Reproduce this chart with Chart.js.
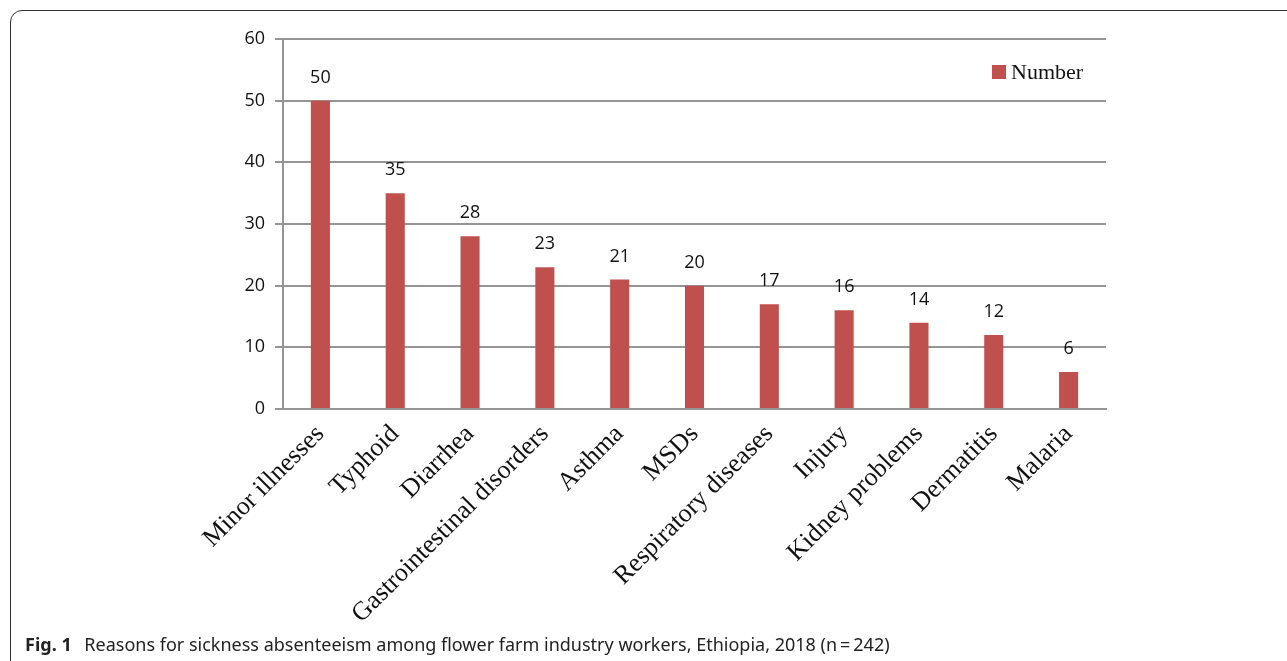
<!DOCTYPE html>
<html>
<head>
<meta charset="utf-8">
<script src="https://cdn.jsdelivr.net/npm/chart.js@4.4.0/dist/chart.umd.min.js"></script>
<style>
  body { margin: 0; background: #fff; }
  #wrap { position: relative; width: 1287px; height: 661px; overflow: hidden; }
  #frame {
    position: absolute; left: 10px; top: 10px; width: 1400px; height: 800px;
    border: 1.5px solid #333; border-top-left-radius: 12px; box-sizing: border-box;
  }
  #chart { position: absolute; left: 0; top: 0; }
  #legend {
    position: absolute; left: 992px; top: 59px;
    font-family: "Liberation Serif", serif; font-size: 22px; color: #111;
    display: flex; align-items: center;
  }
  #legend span.box { display: inline-block; width: 14px; height: 14px; background: #C0504D; margin-right: 5px; }
  #caption {
    position: absolute; left: 25px; top: 632px;
    font-family: "Noto Sans", sans-serif; font-size: 18px; color: #222; white-space: nowrap;
  }
  #caption b { color: #222; margin-right: 8px; }
</style>
</head>
<body>
<div id="wrap">
  <div id="frame"></div>
  <canvas id="chart" width="1287" height="661"></canvas>
  <div id="legend"><span class="box"></span>Number</div>
  <div id="caption"><b>Fig. 1</b> Reasons for sickness absenteeism among flower farm industry workers, Ethiopia, 2018 (n&thinsp;=&thinsp;242)</div>
</div>
<script>
// Categories
const reasons = ["Minor illnesses", "Typhoid", "Diarrhea", "Gastrointestinal disorders", "Asthma", "MSDs",
  "Respiratory diseases", "Injury", "Kidney problems", "Dermatitis", "Malaria"];

// Number of workers
const counts = [50, 35, 28, 23, 21, 20, 17, 16, 14, 12, 6];

const barColor = "#C0504D";
const gridColor = "#959595";

// Draw the value above every bar
const valueLabels = {
  id: "valueLabels",
  afterDatasetsDraw(chart) {
    const ctx = chart.ctx;
    const meta = chart.getDatasetMeta(0);
    ctx.save();
    ctx.font = "18px 'Open Sans', sans-serif";
    ctx.fillStyle = "#111";
    ctx.textAlign = "center";
    ctx.textBaseline = "alphabetic";
    meta.data.forEach((bar, i) => {
      ctx.fillText(counts[i], bar.x, bar.y - 18);
    });
    ctx.restore();
  }
};

const ctx = document.getElementById("chart").getContext("2d");
const myChart = new Chart(ctx, {
  type: "bar",
  data: {
    labels: reasons,
    datasets: [{
      label: "Number",
      data: counts,
      backgroundColor: barColor,
      borderWidth: 0,
      categoryPercentage: 1,
      barPercentage: 0.255
    }]
  },
  options: {
    responsive: false,
    animation: false,
    layout: { padding: { top: 39, right: 181, left: 0, bottom: 0 } },
    plugins: {
      legend: { display: false },
      tooltip: { enabled: false }
    },
    scales: {
      x: {
        grid: { display: false },
        border: { display: true, color: gridColor, width: 2 },
        ticks: {
          color: "#111",
          font: { family: "'Liberation Serif', serif", size: 26 },
          minRotation: 45,
          maxRotation: 45,
          autoSkip: false,
          padding: 2
        },
        afterFit(scale) { scale.height = 661 - 409; }
      },
      y: {
        min: 0,
        max: 60,
        ticks: {
          stepSize: 10,
          color: "#111",
          font: { family: "'Open Sans', sans-serif", size: 18 },
          padding: 10
        },
        grid: { color: gridColor, lineWidth: 2, tickLength: 8 },
        border: { display: true, color: gridColor, width: 2 },
        afterFit(scale) { scale.width = 283; }
      }
    }
  },
  plugins: [valueLabels]
});
</script>
</body>
</html>
